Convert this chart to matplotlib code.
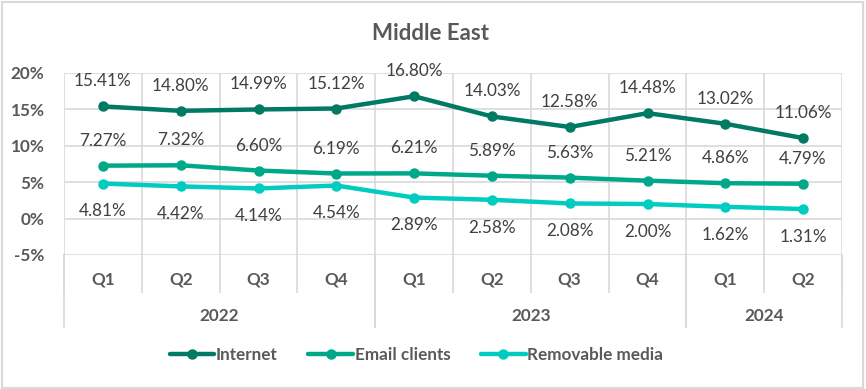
import matplotlib
matplotlib.use('Agg')
import matplotlib.pyplot as plt
import matplotlib.transforms as mtransforms
from matplotlib.patches import Rectangle

plt.rcParams['font.family'] = ['Lato', 'DejaVu Sans']

# Data
quarters = ['Q1', 'Q2', 'Q3', 'Q4', 'Q1', 'Q2', 'Q3', 'Q4', 'Q1', 'Q2']
years = ['2022', '2023', '2024']
year_spans = [(0, 4), (4, 8), (8, 10)]
internet = [15.41, 14.80, 14.99, 15.12, 16.80, 14.03, 12.58, 14.48, 13.02, 11.06]
email_clients = [7.27, 7.32, 6.60, 6.19, 6.21, 5.89, 5.63, 5.21, 4.86, 4.79]
removable_media = [4.81, 4.42, 4.14, 4.54, 2.89, 2.58, 2.08, 2.00, 1.62, 1.31]

series = [
    ('Internet', internet, '#007A62', 18),
    ('Email clients', email_clients, '#00A88A', 18),
    ('Removable media', removable_media, '#00CCC0', -20),
]

grid_col = '#D9D9D9'
text_col = '#595959'
label_col = '#404040'

fig = plt.figure(figsize=(8.66, 3.89), dpi=100)
ax = fig.add_axes([0.0739, 0.3445, 0.8984, 0.4679])

x = list(range(len(quarters)))
for name, vals, color, off in series:
    ax.plot(x, vals, color=color, lw=3.2, marker='o', ms=6.5, label=name,
            solid_capstyle='round', zorder=3)
    for xi, v in zip(x, vals):
        ax.annotate(f'{v:.2f}%', (xi, v), xytext=(0, off), textcoords='offset points',
                    ha='center', va='center', fontsize=12.3, color=label_col, zorder=4)

ax.set_xlim(-0.5, len(quarters) - 0.5)
ax.set_ylim(-5, 20)
ax.set_yticks([-5, 0, 5, 10, 15, 20])
ax.set_yticklabels(['-5%', '0%', '5%', '10%', '15%', '20%'], fontsize=12.3,
                   fontweight='bold', color=text_col)
ax.tick_params(axis='y', length=0, pad=14)
ax.set_xticks([])
ax.grid(axis='y', color=grid_col, lw=1.2)
for b in range(len(quarters) + 1):
    ax.axvline(b - 0.5, color=grid_col, lw=1.2, zorder=0)
for s in ax.spines.values():
    s.set_visible(False)

# Multi-level category axis
trans = mtransforms.blended_transform_factory(ax.transData, ax.transAxes)
for i, q in enumerate(quarters):
    ax.text(i, -0.132, q, transform=trans, ha='center', va='center',
            fontsize=12.3, fontweight='bold', color=text_col)
for b in range(len(quarters) + 1):
    ax.plot([b - 0.5, b - 0.5], [0, -0.203], transform=trans, color=grid_col,
            lw=1.2, clip_on=False)
for yr, (a, e) in zip(years, year_spans):
    ax.text((a + e - 1) / 2, -0.335, yr, transform=trans, ha='center', va='center',
            fontsize=12.3, fontweight='bold', color=text_col)
    for b in (a, e):
        ax.plot([b - 0.5, b - 0.5], [0, -0.396], transform=trans, color=grid_col,
                lw=1.2, clip_on=False)

fig.text(0.497, 0.915, 'Middle East', ha='center', va='center', fontsize=16,
         fontweight='bold', color=text_col)

fig.legend(loc='center', bbox_to_anchor=(0.481, 0.087), ncol=3, frameon=False,
           handlelength=2.6, handletextpad=0.1, columnspacing=1.8,
           labelcolor=text_col, prop={'weight': 'bold', 'size': 12.3})

fig.patches.append(Rectangle((0.002, 0.003), 0.995, 0.993, transform=fig.transFigure,
                             fill=False, edgecolor=grid_col, lw=1.5))

fig.savefig('out.png', dpi=100)
